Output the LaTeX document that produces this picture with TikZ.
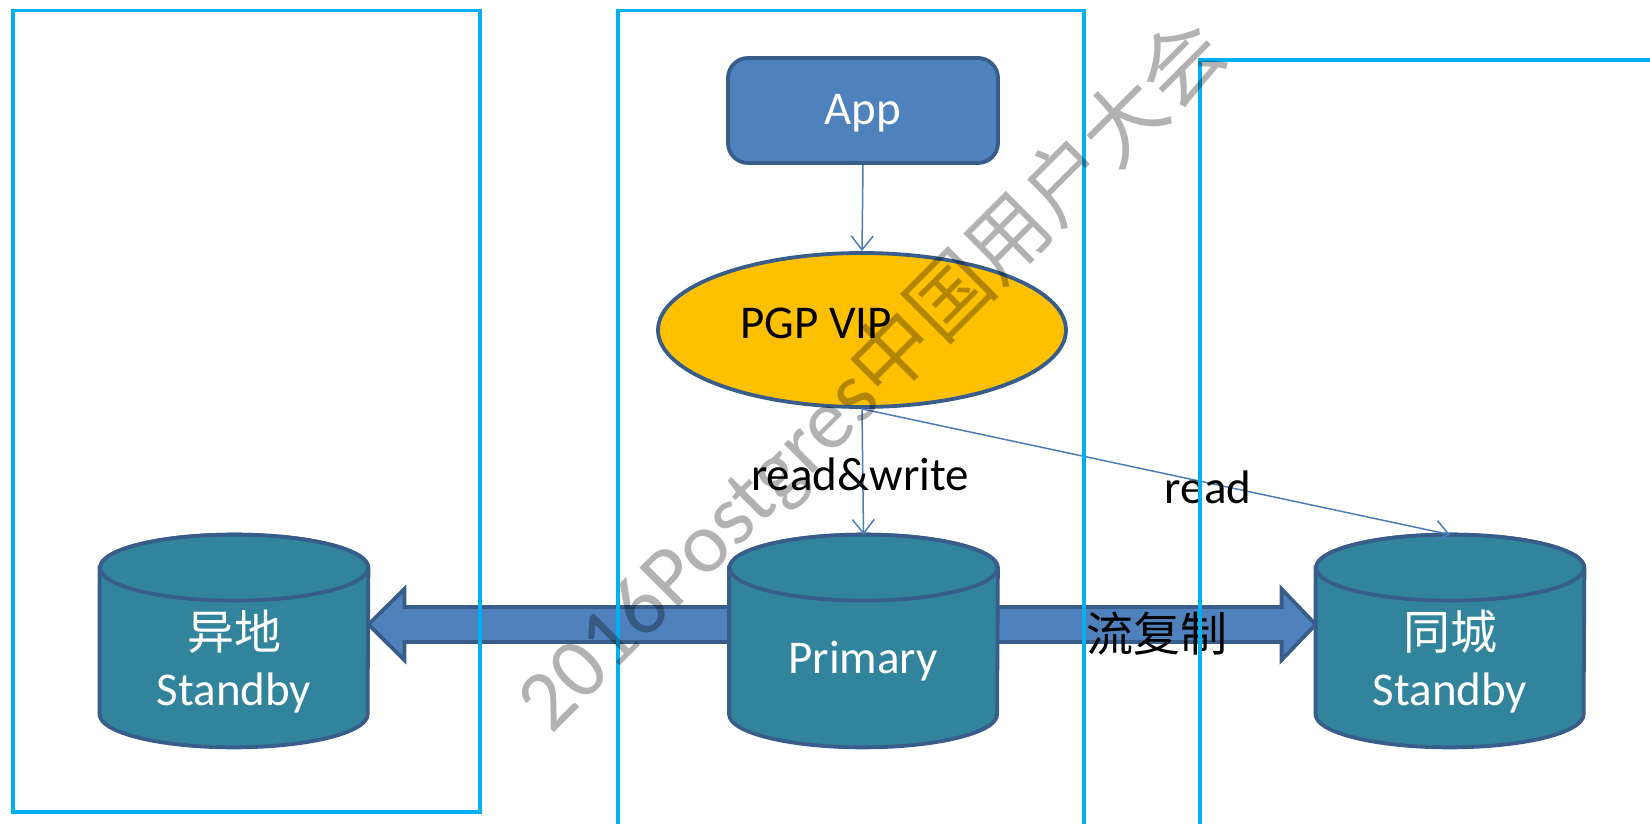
\documentclass[tikz,border=0pt]{standalone}
\usepackage{fontspec}
\setmainfont{Carlito}
\newfontfamily\cjk{Noto Sans CJK SC}
\usetikzlibrary{shapes.geometric,arrows.meta,calc}
\definecolor{frameblue}{HTML}{00B0F0}
\definecolor{appblue}{HTML}{4F81BD}
\definecolor{edgeblue}{HTML}{385D8A}
\definecolor{linkblue}{HTML}{4A7EBB}
\definecolor{vipgold}{HTML}{FFC000}
\definecolor{cylteal}{HTML}{31849B}
\tikzset{
  frame/.style={draw=frameblue, line width=1.9pt},
  conn/.style={draw=linkblue, line width=0.75pt, -{Straight Barb[length=7pt,width=11pt]}},
  lbl/.style={font=\fontsize{23.5pt}{28pt}\selectfont, inner sep=0pt},
  wlbl/.style={lbl, text=white, align=center},
  cylbox/.style={minimum width=134pt, minimum height=106pt, inner sep=0pt},
  cylpaint/.style={fill=cylteal, draw=edgeblue, line width=1.9pt},
  barrow/.style={fill=appblue, draw=edgeblue, line width=1.9pt, line join=miter},
}
\newcommand\cylof[1]{%
  \filldraw[cylpaint] ($(#1.north west)+(0,33)$) -- ($(#1.south west)+(0,-33)$)
    arc[start angle=180, end angle=360, x radius=67pt, y radius=16.5pt]
    -- ($(#1.north east)+(0,33)$)
    arc[start angle=0, end angle=180, x radius=67pt, y radius=16.5pt] -- cycle;
  \draw[cylpaint] ($(#1.north)+(0,33)$) ellipse[x radius=67pt, y radius=16.5pt];
}
\begin{document}
\begin{tikzpicture}[x=0.5pt, y=-0.5pt]
\useasboundingbox (0,0) rectangle (1650,824);

% nodes
\node[draw=edgeblue, fill=appblue, line width=1.9pt, rounded corners=10pt,
      minimum width=135pt, minimum height=52.5pt, inner sep=0pt] (app) at (863,110.5) {};
\node[wlbl] (apptxt) at (863,113) {App};
\node[ellipse, draw=edgeblue, fill=vipgold, line width=1.9pt,
      minimum width=204pt, minimum height=77pt, inner sep=0pt] (vip) at (862,330) {};
\node[lbl] (viptxt) at (816,323) {PGP VIP};

\node[cylbox] (sb1) at (234,641) {};
\node[cylbox] (pri) at (863.5,641) {};
\node[cylbox] (sb2) at (1450,641) {};

% block arrows
\filldraw[barrow] ($(pri.west)+(20,-34)$) -- ($(sb1.east)+(36,-34)$) -- ($(sb1.east)+(36,-52)$)
  -- ($(sb1.east)+(0,-16.5)$) -- ($(sb1.east)+(36,19)$) -- ($(sb1.east)+(36,1)$)
  -- ($(pri.west)+(20,1)$) -- cycle;
\filldraw[barrow] ($(pri.east)+(-20,-34)$) -- ($(sb2.west)+(-34,-34)$) -- ($(sb2.west)+(-34,-52)$)
  -- ($(sb2.west)+(0,-16.5)$) -- ($(sb2.west)+(-34,19)$) -- ($(sb2.west)+(-34,1)$)
  -- ($(pri.east)+(-20,1)$) -- cycle;

% cylinders
\cylof{sb1}
\cylof{pri}
\cylof{sb2}
\node[wlbl] (sb1txt) at (234,662) {{\cjk 异地}\\[0pt]Standby};
\node[wlbl] (pritxt) at (863,661) {Primary};
\node[wlbl] (sb2txt) at (1450,662) {{\cjk 同城}\\[0pt]Standby};
\node[lbl] (repl) at (1157,634) {\cjk 流复制};

% connectors
\draw[conn] (app.south) -- (vip.north);
\draw[conn] (vip.south) -- (pri.north);
\draw[conn] (vip.south) -- (sb2.north);
\node[lbl] (rwtxt) at (860,474) {read\&write};
\node[lbl] (rtxt) at (1208,487) {read};

% frames
\draw[frame] (12.6,10.5) rectangle (480,812);
\draw[frame] (618,840) |- (1084,10.5) -- (1084,840);
\draw[frame] (1200,840) |- (1670,60);

% watermark
\node[rotate=45, text=black, text opacity=0.3, inner sep=0pt,
      font=\fontsize{43pt}{43pt}\selectfont] (wm) at (872,376)
      {2016Postgres{\cjk\fontsize{41pt}{41pt}\selectfont 中国用户大会}};
\end{tikzpicture}
\end{document}
